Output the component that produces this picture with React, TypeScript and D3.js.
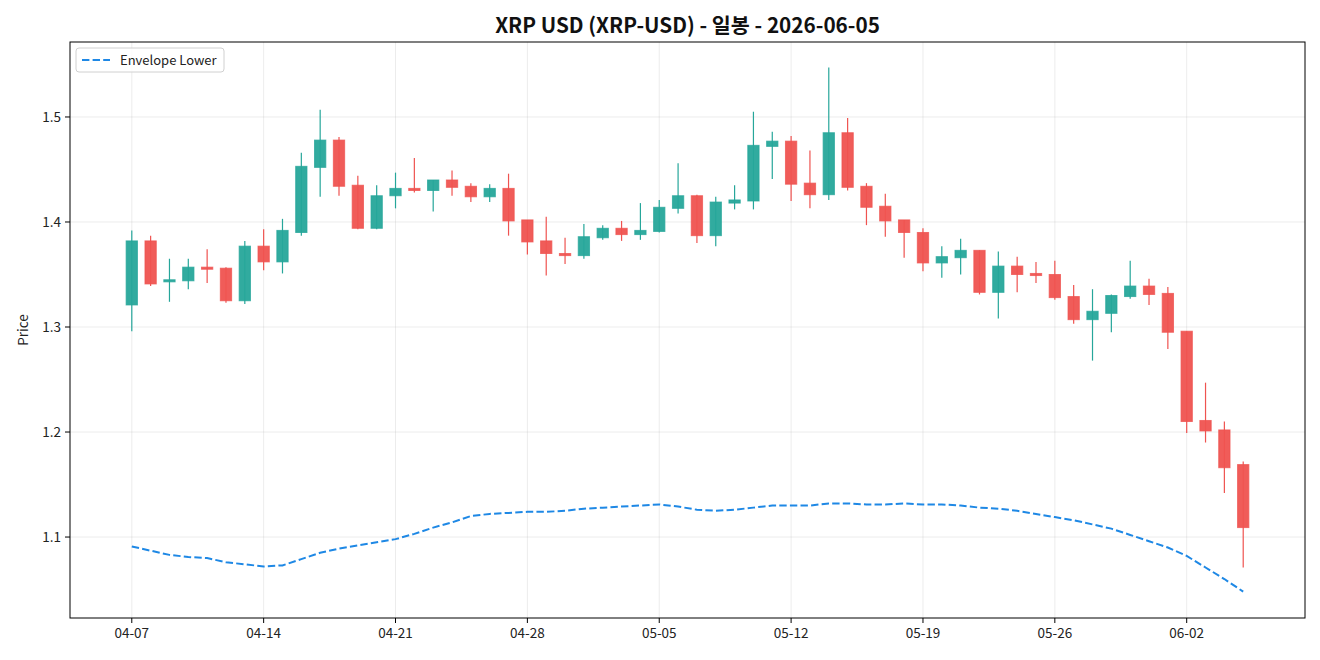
import React from "react";
import * as d3 from "d3";

const startDate = new Date(2026, 3, 7);
const endDate = new Date(2026, 5, 6);
const dates = d3.timeDay.range(startDate, endDate);

const openP = [1.321,1.382,1.343,1.344,1.357,1.356,1.325,1.377,1.362,1.390,1.452,1.478,1.435,1.394,1.425,1.432,1.430,1.440,1.434,1.424,1.432,1.402,1.382,1.370,1.368,1.385,1.394,1.388,1.391,1.413,1.425,1.387,1.418,1.420,1.472,1.477,1.437,1.426,1.485,1.434,1.415,1.402,1.390,1.361,1.366,1.373,1.333,1.358,1.351,1.350,1.329,1.307,1.313,1.329,1.339,1.332,1.296,1.211,1.202,1.169];
const highP = [1.392,1.387,1.365,1.365,1.374,1.357,1.382,1.393,1.403,1.466,1.507,1.481,1.444,1.435,1.447,1.461,1.440,1.449,1.437,1.436,1.446,1.402,1.405,1.385,1.398,1.397,1.401,1.418,1.421,1.456,1.426,1.424,1.435,1.505,1.486,1.482,1.468,1.547,1.499,1.437,1.427,1.402,1.394,1.377,1.384,1.373,1.372,1.367,1.362,1.363,1.340,1.336,1.331,1.363,1.346,1.338,1.296,1.247,1.210,1.172];
const lowP = [1.296,1.339,1.324,1.336,1.342,1.323,1.322,1.354,1.351,1.387,1.424,1.425,1.393,1.393,1.413,1.428,1.410,1.425,1.419,1.419,1.387,1.369,1.349,1.360,1.365,1.383,1.382,1.383,1.390,1.408,1.380,1.377,1.412,1.412,1.441,1.420,1.413,1.421,1.430,1.397,1.386,1.366,1.353,1.347,1.350,1.331,1.308,1.333,1.342,1.326,1.303,1.268,1.295,1.327,1.321,1.279,1.199,1.190,1.142,1.071];
const closeP = [1.382,1.341,1.345,1.357,1.355,1.325,1.377,1.362,1.392,1.453,1.478,1.434,1.394,1.425,1.432,1.430,1.440,1.433,1.424,1.432,1.401,1.381,1.370,1.368,1.386,1.394,1.388,1.392,1.414,1.425,1.387,1.419,1.421,1.473,1.477,1.436,1.426,1.485,1.433,1.414,1.401,1.390,1.361,1.367,1.373,1.333,1.358,1.350,1.349,1.328,1.307,1.315,1.330,1.339,1.331,1.295,1.210,1.201,1.166,1.109];
const envLower = [1.091,1.087,1.083,1.081,1.080,1.076,1.074,1.072,1.073,1.079,1.085,1.089,1.092,1.095,1.098,1.103,1.109,1.114,1.120,1.122,1.123,1.124,1.124,1.125,1.127,1.128,1.129,1.130,1.131,1.129,1.126,1.125,1.126,1.128,1.130,1.130,1.130,1.132,1.132,1.131,1.131,1.132,1.131,1.131,1.130,1.128,1.127,1.125,1.122,1.119,1.116,1.112,1.108,1.102,1.096,1.090,1.082,1.071,1.060,1.048];

const xTickLabels = ["04-07","04-14","04-21","04-28","05-05","05-12","05-19","05-26","06-02"];
const yTicks = [1.1, 1.2, 1.3, 1.4, 1.5];

const W = 1320, H = 660;
const L = 70, R = 1305, T = 42, B = 618;
const UP = "#26a69a", DOWN = "#ef5350", ENV = "#1e88e5";
const FONT = "'Noto Sans CJK KR', 'Noto Sans', sans-serif";

export default function App() {
  const fmt = d3.timeFormat("%m-%d");
  const labels = dates.map(fmt);
  const x = d3.scaleLinear().domain([-3.28, 62.28]).range([L, R]);
  const y = d3.scaleLinear().domain([1.0229, 1.5714]).range([B, T]);
  const bw = x(0.6) - x(0);
  const line = d3.line<number>().x((_, i) => x(i)).y((d) => y(d));
  const xTicks = xTickLabels.map((t) => ({ t, i: labels.indexOf(t) }));

  return (
    <svg width={W} height={H} style={{ position: "absolute", left: 0, top: 0, background: "#fff" }} fontFamily={FONT}>
      <rect x={0} y={0} width={W} height={H} fill="#fff" />
      <g stroke="#b0b0b0" strokeOpacity={0.3} strokeWidth={0.8}>
        {xTicks.map((d) => (
          <line key={d.t} x1={x(d.i)} x2={x(d.i)} y1={T} y2={B} />
        ))}
        {yTicks.map((v) => (
          <line key={v} x1={L} x2={R} y1={y(v)} y2={y(v)} />
        ))}
      </g>
      <g>
        {dates.map((_, i) => {
          const up = closeP[i] >= openP[i];
          const c = up ? UP : DOWN;
          const top = y(Math.max(openP[i], closeP[i]));
          const bot = y(Math.min(openP[i], closeP[i]));
          return (
            <g key={i}>
              <line x1={x(i)} x2={x(i)} y1={y(highP[i])} y2={y(lowP[i])} stroke={c} strokeWidth={1.2} />
              <rect x={x(i) - bw / 2} y={top} width={bw} height={Math.max(bot - top, 1)} fill={c} stroke={c} strokeOpacity={0.75} strokeWidth={1} fillOpacity={0.95} />
            </g>
          );
        })}
      </g>
      <path d={line(envLower) || ""} fill="none" stroke={ENV} strokeWidth={2} strokeDasharray="7.4,3.2" />
      <rect x={L} y={T} width={R - L} height={B - T} fill="none" stroke="#000" strokeWidth={1} />
      <g fontSize={13.5} fill="#222">
        {xTicks.map((d) => (
          <g key={d.t}>
            <line x1={x(d.i)} x2={x(d.i)} y1={B} y2={B + 5} stroke="#000" strokeWidth={1} />
            <text x={x(d.i)} y={B + 20} textAnchor="middle" fill="#222">{d.t}</text>
          </g>
        ))}
        {yTicks.map((v) => (
          <g key={v}>
            <line x1={L - 5} x2={L} y1={y(v)} y2={y(v)} stroke="#000" strokeWidth={1} />
            <text x={L - 9} y={y(v)} dy="0.35em" textAnchor="end" fill="#222">{d3.format(".1f")(v)}</text>
          </g>
        ))}
      </g>
      <text transform={`translate(28,${(T + B) / 2}) rotate(-90)`} textAnchor="middle" fontSize={13.5} fill="#222">Price</text>
      <text x={(L + R) / 2} y={33} textAnchor="middle" fontSize={20.7} fontWeight="bold" fill="#111">XRP USD (XRP-USD) - 일봉 - 2026-06-05</text>
      <g>
        <rect x={76} y={48} width={148} height={24} rx={3} fill="#fff" fillOpacity={0.8} stroke="#d0d0d0" strokeWidth={1} />
        <line x1={82} x2={110} y1={60} y2={60} stroke={ENV} strokeWidth={2} strokeDasharray="7.4,3.2" />
        <text x={120} y={60} dy="0.35em" fontSize={13} fill="#222">Envelope Lower</text>
      </g>
    </svg>
  );
}
